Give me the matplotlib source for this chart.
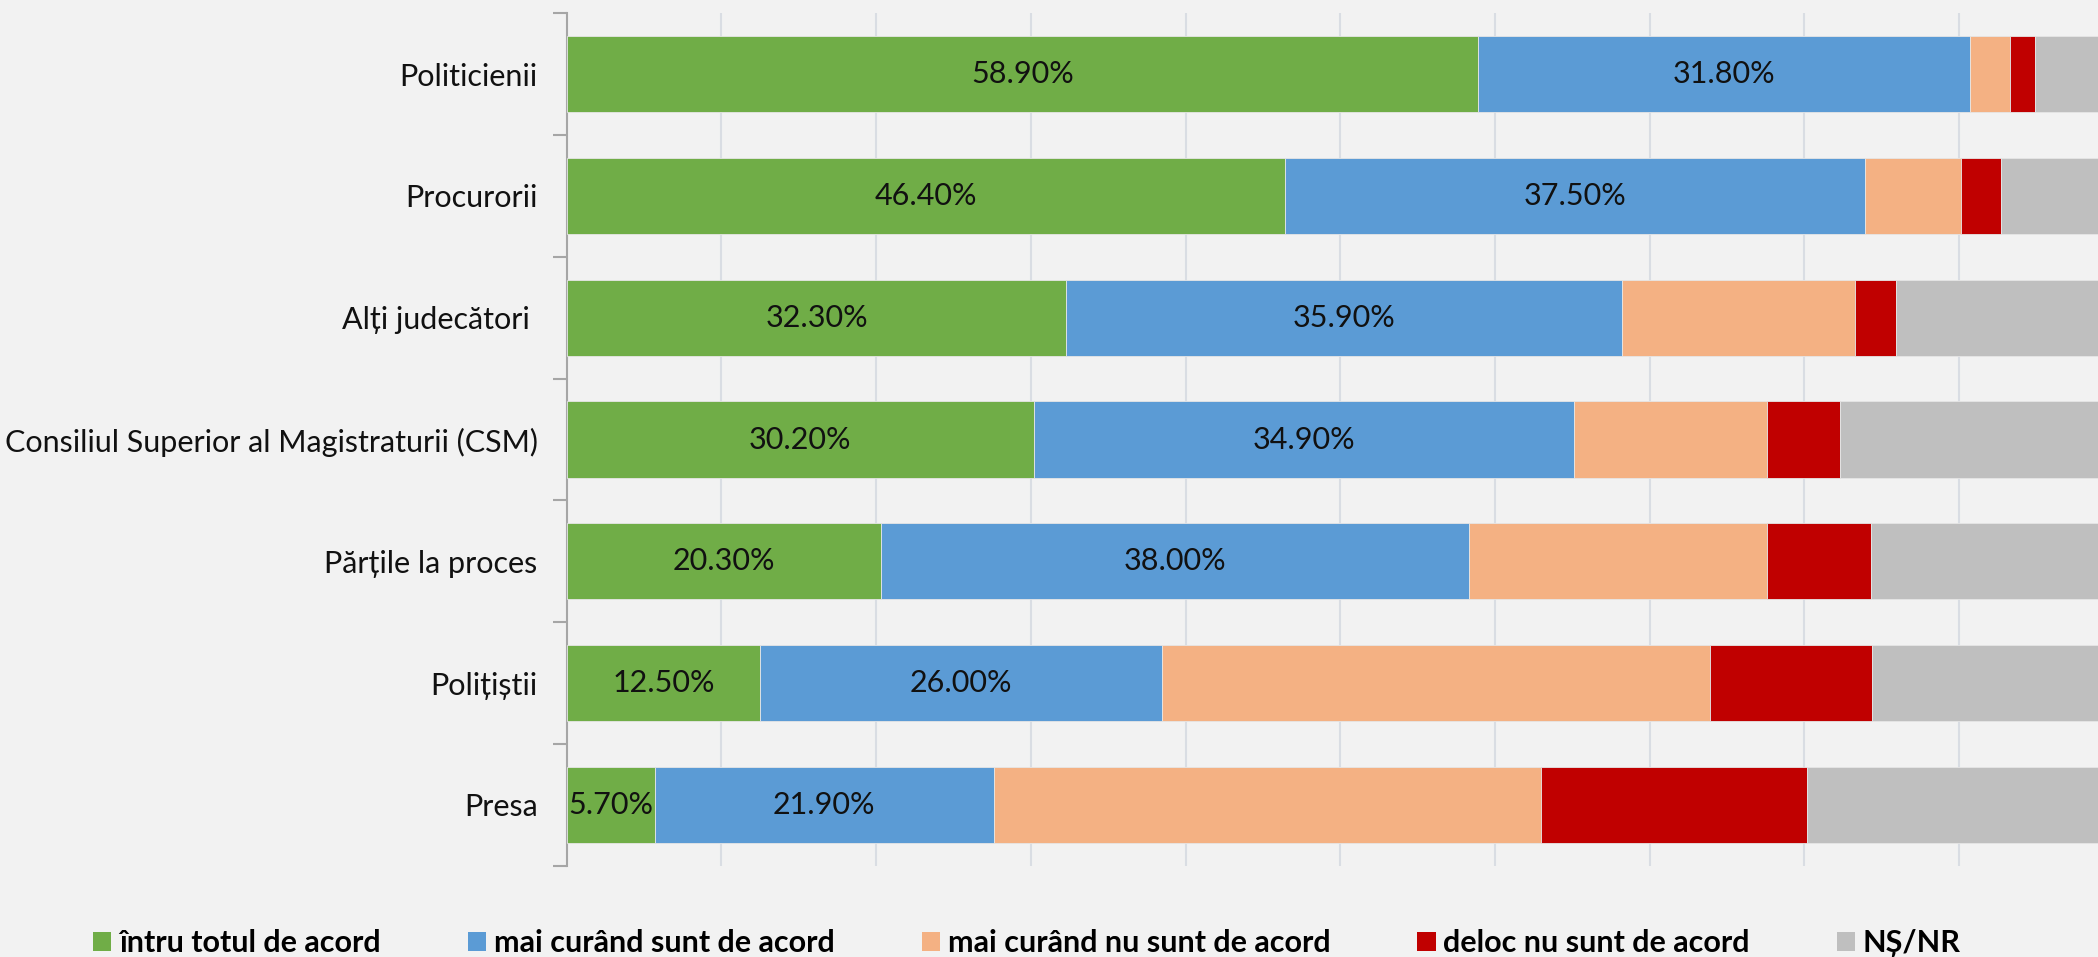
import numpy as np
import matplotlib
matplotlib.use("Agg")
import matplotlib.pyplot as plt
from matplotlib.patches import Patch

plt.rcParams['font.family'] = ['Lato', 'DejaVu Sans']

# data
categories = ['Politicienii', 'Procurorii', 'Alți judecători ',
              'Consiliul Superior al Magistraturii (CSM)', 'Părțile la proces',
              'Polițiștii', 'Presa']
series_names = ['întru totul de acord', 'mai curând sunt de acord',
                'mai curând nu sunt de acord', 'deloc nu sunt de acord', 'NȘ/NR']
total_acord = [58.9, 46.4, 32.3, 30.2, 20.3, 12.5, 5.7]
curand_acord = [31.8, 37.5, 35.9, 34.9, 38.0, 26.0, 21.9]
curand_nu = [2.6, 6.2, 15.1, 12.5, 19.3, 35.4, 35.4]
deloc_nu = [1.6, 2.6, 2.6, 4.7, 6.7, 10.5, 17.2]
ns_nr = [5.1, 7.3, 14.1, 17.7, 15.7, 15.6, 19.8]

colors = ['#70ad47', '#5b9bd5', '#f4b183', '#c00000', '#bfbfbf']
bg = '#f2f2f2'

fig = plt.figure(figsize=(20.98, 9.57), dpi=100, facecolor=bg)
ax = fig.add_axes([566.7 / 2098, 91.3 / 957, (2113.7 - 566.7) / 2098, 852.4 / 957])
ax.set_facecolor(bg)

y = np.arange(len(categories))
left = np.zeros(len(categories))
all_series = [total_acord, curand_acord, curand_nu, deloc_nu, ns_nr]
for k, vals in enumerate(all_series):
    vals = np.array(vals)
    ax.barh(y, vals, left=left, height=0.625, color=colors[k],
            edgecolor='#e6e6e6', linewidth=0.6, zorder=3)
    if k < 2:
        for i, v in enumerate(vals):
            ax.text(left[i] + v / 2, y[i], '{:.2f}%'.format(v), ha='center',
                    va='center', fontsize=22, color='#111111', zorder=4)
    left = left + vals

ax.set_xlim(0, 100)
ax.set_ylim(len(categories) - 0.5, -0.5)
ax.set_xticks(np.arange(10, 100, 10))
ax.tick_params(axis='x', length=0, labelbottom=False)
ax.grid(axis='x', color='#d9dde3', linewidth=1.5, zorder=0)

ax.set_yticks(y)
ax.set_yticklabels(categories, fontsize=22, color='#111111')
ax.set_yticks(np.arange(-0.5, len(categories)), minor=True)
ax.tick_params(axis='y', which='major', length=0, pad=21)
ax.tick_params(axis='y', which='minor', length=10, width=1.5, color='#a6a6a6')

for s in ['top', 'right', 'bottom']:
    ax.spines[s].set_visible(False)
ax.spines['left'].set_color('#a6a6a6')
ax.spines['left'].set_linewidth(1.5)

handles = [Patch(facecolor=c, edgecolor='none') for c in colors]
fig.legend(handles, series_names, loc='center', bbox_to_anchor=(0.4895, 0.0146),
           ncol=5, frameon=False, prop={'size': 22, 'weight': 'bold'},
           handlelength=0.6, handleheight=0.6, handletextpad=0.25,
           columnspacing=2.85, borderpad=0, borderaxespad=0)

fig.savefig('out.png', dpi=100, facecolor=bg)
